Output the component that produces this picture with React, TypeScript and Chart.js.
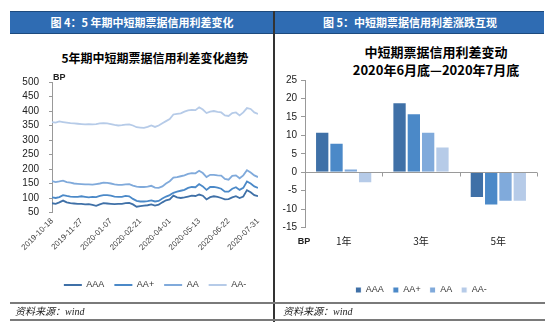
import React, { useEffect, useRef } from "react";
import { Chart, registerables } from "chart.js";

Chart.register(...registerables);

// ---------- data ----------
const dateTicks = [
  "2019-10-18",
  "2019-11-27",
  "2020-01-07",
  "2020-02-21",
  "2020-04-01",
  "2020-05-13",
  "2020-06-22",
  "2020-07-31",
];
const POINTS_PER_TICK = 8;

const seriesNames = ["AAA", "AA+", "AA", "AA-"];
const seriesColors = ["#3f70a7", "#4b89c8", "#80aadb", "#b6cbe8"];

const spreadAAA = [
  82, 80, 85, 91, 85, 82, 81, 80, 80, 78,
  79, 76, 73, 78, 82, 81, 80, 79, 80, 80,
  82, 83, 78, 70, 72, 74, 75, 78, 74, 77,
  85, 92, 95, 108, 102, 100, 102, 105, 108, 107,
  112, 108, 95, 103, 106, 104, 100, 95, 96, 102,
  106, 100, 105, 127, 120, 110, 106,
];
const spreadAAplus = [
  102, 100, 103, 110, 107, 105, 104, 104, 106, 104,
  102, 104, 103, 107, 110, 110, 108, 105, 104, 104,
  107, 106, 97, 90, 88, 88, 89, 92, 88, 90,
  98, 105, 110, 118, 122, 125, 128, 135, 138, 137,
  148, 140, 128, 138, 138, 136, 132, 122, 122, 132,
  137, 128, 135, 157, 150, 140, 135,
];
const spreadAA = [
  158, 155, 157, 160, 155, 153, 150, 149, 148, 147,
  147, 146, 148, 150, 153, 152, 150, 147, 145, 145,
  147, 148, 143, 139, 138, 138, 139, 142, 136, 135,
  140, 150, 158, 170, 172, 175, 178, 183, 186, 185,
  194, 186, 172, 180, 180, 178, 177, 166, 163, 176,
  178, 168, 178, 196, 188, 178, 172,
];
const spreadAAminus = [
  362, 360, 364, 362, 360, 358, 357, 356, 355, 354,
  355, 354, 355, 357, 358, 357, 355, 352, 350, 351,
  353, 354, 350, 344, 343, 342, 345, 350, 345, 350,
  358, 365, 372, 388, 390, 392, 398, 402, 404, 403,
  413, 405, 393, 398, 400, 397, 395, 385, 383, 393,
  395, 385, 395, 410, 407, 395, 390,
];

const termCategories = ["1年", "3年", "5年"];
const changeAAA = [11, 19, -7];
const changeAAplus = [8, 16, -9];
const changeAA = [1, 11, -8];
const changeAAminus = [-3, 7, -8];

const FONT = '"Liberation Sans", "Noto Sans CJK SC", Arial, sans-serif';
const CJK = '"Noto Sans CJK SC", "Liberation Sans", sans-serif';

// ---------- plugins ----------
const bpTopPlugin = {
  id: "bpTop",
  afterDraw(chart: any) {
    const { ctx, chartArea } = chart;
    ctx.save();
    ctx.font = `bold 9px ${FONT}`;
    ctx.fillStyle = "#222";
    ctx.textAlign = "left";
    ctx.textBaseline = "middle";
    ctx.fillText("BP", chartArea.left + 1, chartArea.top - 4);
    ctx.restore();
  },
};

const barAxisPlugin = {
  id: "barAxis",
  afterDatasetsDraw(chart: any) {
    const { ctx, chartArea, scales } = chart;
    const x = scales.x;
    const y0 = Math.round(scales.y.getPixelForValue(0)) + 0.5;
    ctx.save();
    ctx.strokeStyle = "#9a9a9a";
    ctx.lineWidth = 1;
    ctx.beginPath();
    ctx.moveTo(chartArea.left, y0);
    ctx.lineTo(chartArea.right, y0);
    const n = termCategories.length;
    for (let i = 1; i <= n; i++) {
      const px =
        i < n
          ? (x.getPixelForValue(i - 1) + x.getPixelForValue(i)) / 2
          : chartArea.right;
      const xx = Math.round(px) + 0.5;
      ctx.moveTo(xx, y0);
      ctx.lineTo(xx, y0 + 4);
    }
    ctx.stroke();
    ctx.font = `bold 9px ${FONT}`;
    ctx.fillStyle = "#222";
    ctx.textAlign = "center";
    ctx.textBaseline = "middle";
    ctx.fillText("BP", chartArea.left - 1, chartArea.bottom + 14);
    ctx.restore();
  },
};

// ---------- charts ----------
function SpreadLineChart() {
  const ref = useRef<HTMLCanvasElement>(null);
  useEffect(() => {
    const series = [spreadAAA, spreadAAplus, spreadAA, spreadAAminus];
    const lastIndex = (dateTicks.length - 1) * POINTS_PER_TICK;
    const chart = new Chart(ref.current as HTMLCanvasElement, {
      type: "line",
      data: {
        datasets: series.map((s, k) => ({
          label: seriesNames[k],
          data: s.map((y, i) => ({ x: i, y })),
          borderColor: seriesColors[k],
          backgroundColor: seriesColors[k],
          borderWidth: 1.8,
          pointRadius: 0,
          pointStyle: "line",
          tension: 0,
          fill: false,
        })),
      },
      options: {
        responsive: false,
        animation: false,
        layout: { padding: { left: 0, right: 14, top: 16, bottom: 8.5 } },
        plugins: {
          legend: {
            position: "bottom",
            fullSize: false,
            labels: {
              usePointStyle: true,
              pointStyle: "line",
              pointStyleWidth: 18,
              padding: 10,
              color: "#333",
              font: { size: 9, family: FONT },
            },
          },
          title: { display: false },
          tooltip: { enabled: false },
        },
        scales: {
          x: {
            type: "linear",
            min: 0,
            max: lastIndex,
            grid: { display: false, drawTicks: false },
            border: { display: false },
            ticks: {
              stepSize: POINTS_PER_TICK,
              autoSkip: false,
              minRotation: 45,
              maxRotation: 45,
              padding: 4,
              color: "#444",
              font: { size: 8, family: FONT },
              callback: (v: any) =>
                dateTicks[Math.round(Number(v) / POINTS_PER_TICK)] ?? "",
            },
            afterFit: (s: any) => {
              s.height = 58;
            },
          },
          y: {
            min: 50,
            max: 500,
            ticks: {
              stepSize: 50,
              autoSkip: false,
              padding: 10,
              color: "#222",
              font: { size: 10, family: FONT },
            },
            grid: {
              drawOnChartArea: false,
              drawTicks: true,
              tickLength: 3,
              color: "#999",
            },
            border: { color: "#999" },
            afterFit: (s: any) => {
              s.width = 42;
            },
          },
        },
      } as any,
      plugins: [bpTopPlugin],
    });
    return () => chart.destroy();
  }, []);
  return (
    <canvas
      ref={ref}
      width={262}
      height={242}
      style={{ position: "absolute", left: 10, top: 66, width: 262, height: 242 }}
    />
  );
}

function ChangeBarChart() {
  const ref = useRef<HTMLCanvasElement>(null);
  useEffect(() => {
    const series = [changeAAA, changeAAplus, changeAA, changeAAminus];
    const chart = new Chart(ref.current as HTMLCanvasElement, {
      type: "bar",
      data: {
        labels: termCategories,
        datasets: series.map((d, k) => ({
          label: seriesNames[k],
          data: d,
          backgroundColor: seriesColors[k],
          borderColor: "#ffffff",
          borderWidth: 1,
          categoryPercentage: 0.74,
          barPercentage: 1,
        })),
      },
      options: {
        responsive: false,
        animation: false,
        layout: { padding: { left: 0, right: 8, top: 14, bottom: 3.5 } },
        plugins: {
          legend: {
            position: "bottom",
            fullSize: false,
            labels: {
              boxWidth: 6,
              boxHeight: 6,
              padding: 9,
              color: "#333",
              font: { size: 9, family: FONT },
            },
          },
          title: { display: false },
          tooltip: { enabled: false },
        },
        scales: {
          x: {
            grid: { display: false, drawTicks: false },
            border: { display: false },
            ticks: {
              padding: 8,
              color: "#222",
              font: { size: 10, family: CJK },
            },
            afterFit: (s: any) => {
              s.height = 49;
            },
          },
          y: {
            min: -15,
            max: 25,
            ticks: {
              stepSize: 5,
              autoSkip: false,
              padding: 4,
              color: "#222",
              font: { size: 10, family: FONT },
            },
            grid: {
              drawOnChartArea: false,
              drawTicks: true,
              tickLength: 4,
              color: "#999",
            },
            border: { color: "#999" },
            afterFit: (s: any) => {
              s.width = 38;
            },
          },
        },
      } as any,
      plugins: [barAxisPlugin],
    });
    return () => chart.destroy();
  }, []);
  return (
    <canvas
      ref={ref}
      width={278}
      height={242}
      style={{ position: "absolute", left: 267, top: 66, width: 278, height: 242 }}
    />
  );
}

export default function App() {
  const headText: React.CSSProperties = {
    position: "absolute",
    top: 11,
    height: 23,
    lineHeight: "23px",
    color: "#fff",
    fontWeight: "bold",
    fontSize: 11,
    fontFamily: CJK,
    textAlign: "center",
    whiteSpace: "nowrap",
  };
  const source: React.CSSProperties = {
    position: "absolute",
    top: 305,
    height: 14,
    lineHeight: "14px",
    fontSize: 10,
    fontStyle: "italic",
    color: "#222",
    fontFamily: '"Liberation Serif", "Noto Sans CJK SC", serif',
    whiteSpace: "nowrap",
  };
  const title: React.CSSProperties = {
    position: "absolute",
    fontWeight: "bold",
    fontFamily: CJK,
    color: "#000",
    textAlign: "center",
    whiteSpace: "nowrap",
  };
  return (
    <div
      style={{
        position: "absolute",
        left: 0,
        top: 0,
        width: 550,
        height: 327,
        background: "#fff",
        overflow: "hidden",
      }}
    >
      <div
        style={{
          position: "absolute",
          left: 10,
          top: 11,
          width: 534,
          height: 21,
          background: "#2f6cb3",
          borderTop: "1px solid #1d4a7e",
          borderBottom: "1px solid #1d4a7e",
        }}
      />
      <div style={{ ...headText, left: 10, width: 264 }}>
        图 4：5 年期中短期票据信用利差变化
      </div>
      <div style={{ ...headText, left: 275, width: 270 }}>
        图 5：中短期票据信用利差涨跌互现
      </div>

      <div style={{ ...title, left: 55, width: 200, top: 50, fontSize: 12, lineHeight: "16px" }}>
        5年期中短期票据信用利差变化趋势
      </div>
      <div style={{ ...title, left: 336, width: 200, top: 43, fontSize: 13, lineHeight: "18px" }}>
        中短期票据信用利差变动
        <br />
        2020年6月底—2020年7月底
      </div>

      <SpreadLineChart />
      <ChangeBarChart />

      <div
        style={{
          position: "absolute",
          left: 273,
          top: 11,
          width: 1.5,
          height: 311,
          background: "#333",
        }}
      />
      <div
        style={{
          position: "absolute",
          left: 10,
          top: 302,
          width: 535,
          height: 2,
          background: "#7a7a7a",
        }}
      />
      <div
        style={{
          position: "absolute",
          left: 10,
          top: 319,
          width: 535,
          height: 2,
          background: "#7a7a7a",
        }}
      />
      <div style={{ ...source, left: 15 }}>资料来源：wind</div>
      <div style={{ ...source, left: 283 }}>资料来源：wind</div>
    </div>
  );
}
